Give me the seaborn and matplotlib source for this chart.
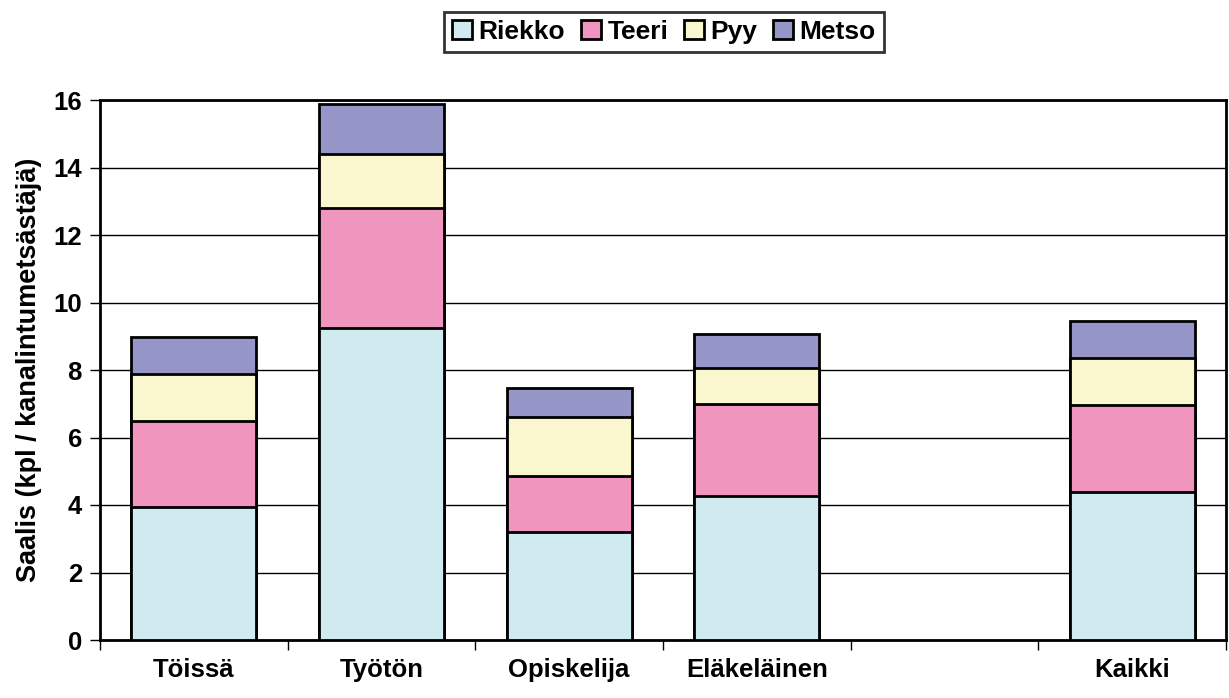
import matplotlib
matplotlib.use("Agg")
import matplotlib.pyplot as plt
import seaborn as sns
import pandas as pd
import numpy as np
from matplotlib.patches import Patch

categories = ["Töissä", "Työtön", "Opiskelija", "Eläkeläinen", " ", "Kaikki"]
riekko = [3.94, 9.24, 3.20, 4.27, np.nan, 4.39]
teeri = [2.55, 3.56, 1.66, 2.72, np.nan, 2.57]
pyy = [1.39, 1.60, 1.75, 1.07, np.nan, 1.40]
metso = [1.10, 1.48, 0.86, 1.01, np.nan, 1.09]
series_names = ["Riekko", "Teeri", "Pyy", "Metso"]
colors = ["#CFEBEF", "#F095BE", "#FAF7CE", "#9595C8"]

sns.set_theme(style="white")
plt.rcParams["font.family"] = ["Liberation Sans", "DejaVu Sans"]
plt.rcParams["font.weight"] = "bold"
plt.rcParams["text.color"] = "black"
plt.rcParams["axes.labelcolor"] = "black"
plt.rcParams["xtick.color"] = "black"
plt.rcParams["ytick.color"] = "black"

df = pd.DataFrame({"cat": categories, "Riekko": riekko, "Teeri": teeri,
                   "Pyy": pyy, "Metso": metso})
cum = df[series_names].cumsum(axis=1)

fig = plt.figure(figsize=(12.29, 6.98), dpi=100)
ax = fig.add_axes([100/1229, 1-640/698, 1126/1229, 540/698])

for name, col in reversed(list(zip(series_names, colors))):
    d = pd.DataFrame({"cat": categories, "val": cum[name]})
    sns.barplot(data=d, x="cat", y="val", order=categories, color=col,
                edgecolor="black", linewidth=2, width=0.667, saturation=1,
                ax=ax, zorder=3)

ax.set_ylim(0, 16)
ax.set_xlim(-0.5, len(categories) - 0.5)
ax.set_yticks(range(0, 17, 2))
ax.yaxis.grid(True, color="black", linewidth=1)
ax.set_axisbelow(True)
for s in ax.spines.values():
    s.set_visible(True)
    s.set_color("black")
    s.set_linewidth(2)

ax.set_xlabel("")
ax.set_ylabel("Saalis (kpl / kanalintumetsästäjä)", fontsize=19.5, fontweight="bold",
              color="black", labelpad=8)
ax.tick_params(axis="y", direction="out", length=7, width=1, labelsize=18.5, left=True,
               pad=6, colors="black")
ax.tick_params(axis="x", which="major", length=0, labelsize=18.5, pad=13, colors="black")
ax.set_xticks(np.arange(-0.5, len(categories), 1), minor=True)
ax.tick_params(axis="x", which="minor", direction="out", length=7, width=1, bottom=True,
               colors="black")
for lbl in ax.get_xticklabels() + ax.get_yticklabels():
    lbl.set_fontweight("bold")

handles = [Patch(facecolor=c, edgecolor="black", linewidth=2, label=n)
           for n, c in zip(series_names, colors)]
leg = fig.legend(handles=handles, loc="upper center", bbox_to_anchor=(664/1229, 1-12/698),
                 ncol=4, frameon=True, fancybox=False, edgecolor="black",
                 prop={"weight": "bold", "size": 19}, handlelength=0.75, handleheight=0.75,
                 handletextpad=0.25, columnspacing=0.6, borderpad=0.3, borderaxespad=0)
leg.get_frame().set_linewidth(2)

fig.savefig("out.png", dpi=100)
